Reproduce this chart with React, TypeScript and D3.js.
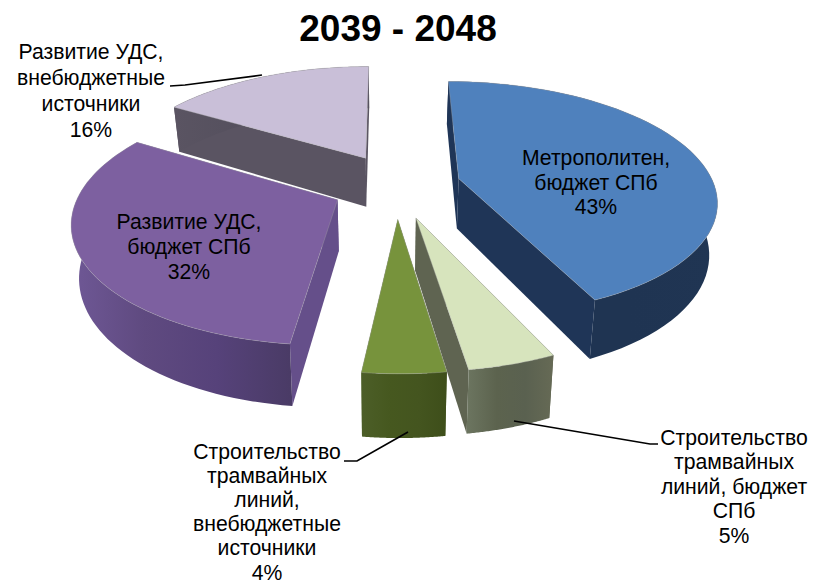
import React from "react";
import * as d3 from "d3";

const sliceNames = ["metro", "tramBudget", "tramExtra", "roadBudget", "roadExtra"];
const sliceValues = [43.2, 4.5, 4.2, 31.8, 16.3];
const topColors = ["#4f81bd", "#d7e4bd", "#77933c", "#7d60a0", "#c9bfd8"];
const wallStops = [
  ["#1f3557", "#1f3452", "#1f3452", "#203553"],
  ["#6b745f", "#5c634e", "#5a6150", "#666a55"],
  ["#4c5e28", "#46581f", "#44551f", "#3e4e1a"],
  ["#6f5896", "#5f4a80", "#56427a", "#4a3b66"],
  ["#5a5462", "#55505e", "#55505e", "#55505e"],
];
const sideColors = ["#1f3557", "#5f6451", "#4c5e28", "#654f8a", "#5a5462"];
const paintOrder = [4, 0, 3, 1, 2];

const titleText = "2039 - 2048";
const labelBlocks = [
  { x: 91, y: 59, lh: 26, lines: ["Развитие УДС,", "внебюджетные", "источники", "16%"] },
  { x: 596, y: 165, lh: 24.6, lines: ["Метрополитен,", "бюджет СПб", "43%"] },
  { x: 189, y: 229, lh: 25, lines: ["Развитие УДС,", "бюджет СПб", "32%"] },
  { x: 734, y: 445, lh: 24.4, lines: ["Строительство", "трамвайных", "линий, бюджет", "СПб", "5%"] },
  { x: 267, y: 459, lh: 24.1, lines: ["Строительство", "трамвайных", "линий,", "внебюджетные", "источники", "4%"] },
];
const leaders = [
  [[170, 86], [185, 85], [262, 75]],
  [[514, 421], [650, 444], [658, 444]],
  [[344, 461], [357, 461], [408, 432]],
];

// projective ground-plane camera fitted to the picture
const cx = 387;
const horizonY = -502;
const focalX = 1520;
const focalY = 4090;
const wallDepth = 300;
const bottomShrink = 0.975;
const centerU = 0.037;
const centerW = 5.95;
const explodeU = 0.252;
const explodeW = 0.28;

type P = [number, number];
const top = (u: number, w: number): P => [cx + (focalX * u) / w, horizonY + focalY / w];
const bot = (u: number, w: number): P => [
  cx + ((focalX * u) / w) * bottomShrink,
  horizonY + (focalY + wallDepth) / w,
];
const lineGen = d3.line<P>();

export default function App() {
  const arcs = d3.pie<number>().sort(null).value((d) => d)(sliceValues);
  const slices = arcs.map((a, i) => {
    const mid = (a.startAngle + a.endAngle) / 2;
    const u0 = centerU + explodeU * Math.sin(mid);
    const w0 = centerW + explodeW * Math.cos(mid);
    const rim = d3
      .range(0, 61)
      .map((k) => a.startAngle + ((a.endAngle - a.startAngle) * k) / 60)
      .map((t) => [u0 + Math.sin(t), w0 + Math.cos(t)] as P);
    const topRim = rim.map(([u, w]) => top(u, w));
    const botRim = rim.map(([u, w]) => bot(u, w));
    const apexT = top(u0, w0);
    const apexB = bot(u0, w0);
    const xs = topRim.map((p) => p[0]);
    return {
      i,
      topPath: lineGen([apexT, ...topRim])! + "Z",
      outerPath: lineGen([...topRim, ...[...botRim].reverse()])! + "Z",
      side1: lineGen([apexT, topRim[0], botRim[0], apexB])! + "Z",
      side2: lineGen([apexT, topRim[60], botRim[60], apexB])! + "Z",
      x1: d3.min(xs)!,
      x2: d3.max(xs)!,
    };
  });
  const font = "'Liberation Sans', Arial, sans-serif";
  return (
    <svg width={815} height={584} style={{ position: "absolute", left: 0, top: 0 }}>
      <defs>
        {slices.map((s) => (
          <linearGradient key={s.i} id={`wall${s.i}`} gradientUnits="userSpaceOnUse" x1={s.x1} x2={s.x2} y1={0} y2={0}>
            {wallStops[s.i].map((c, k) => (
              <stop key={k} offset={k / 3} stopColor={c} />
            ))}
          </linearGradient>
        ))}
      </defs>
      <text x={398} y={41} textAnchor="middle" fontFamily={font} fontWeight="bold" fontSize={37} fill="#000">
        {titleText}
      </text>
      {paintOrder.map((idx) => {
        const s = slices[idx];
        return (
          <g key={sliceNames[idx]}>
            <path d={s.side1} fill={sideColors[idx]} />
            <path d={s.side2} fill={sideColors[idx]} />
            <path d={s.outerPath} fill={`url(#wall${idx})`} />
            <path d={s.topPath} fill={topColors[idx]} stroke="#a8a8a8" strokeOpacity={0.45} strokeWidth={0.8} />
          </g>
        );
      })}
      {leaders.map((pts, i) => (
        <path key={i} d={lineGen(pts as P[])!} fill="none" stroke="#000" strokeWidth={1.7} />
      ))}
      {labelBlocks.map((b, i) => (
        <text key={i} textAnchor="middle" fontFamily={font} fontSize={21.2} fill="#000">
          {b.lines.map((l, k) => (
            <tspan key={k} x={b.x} y={b.y + k * b.lh}>
              {l}
            </tspan>
          ))}
        </text>
      ))}
    </svg>
  );
}
